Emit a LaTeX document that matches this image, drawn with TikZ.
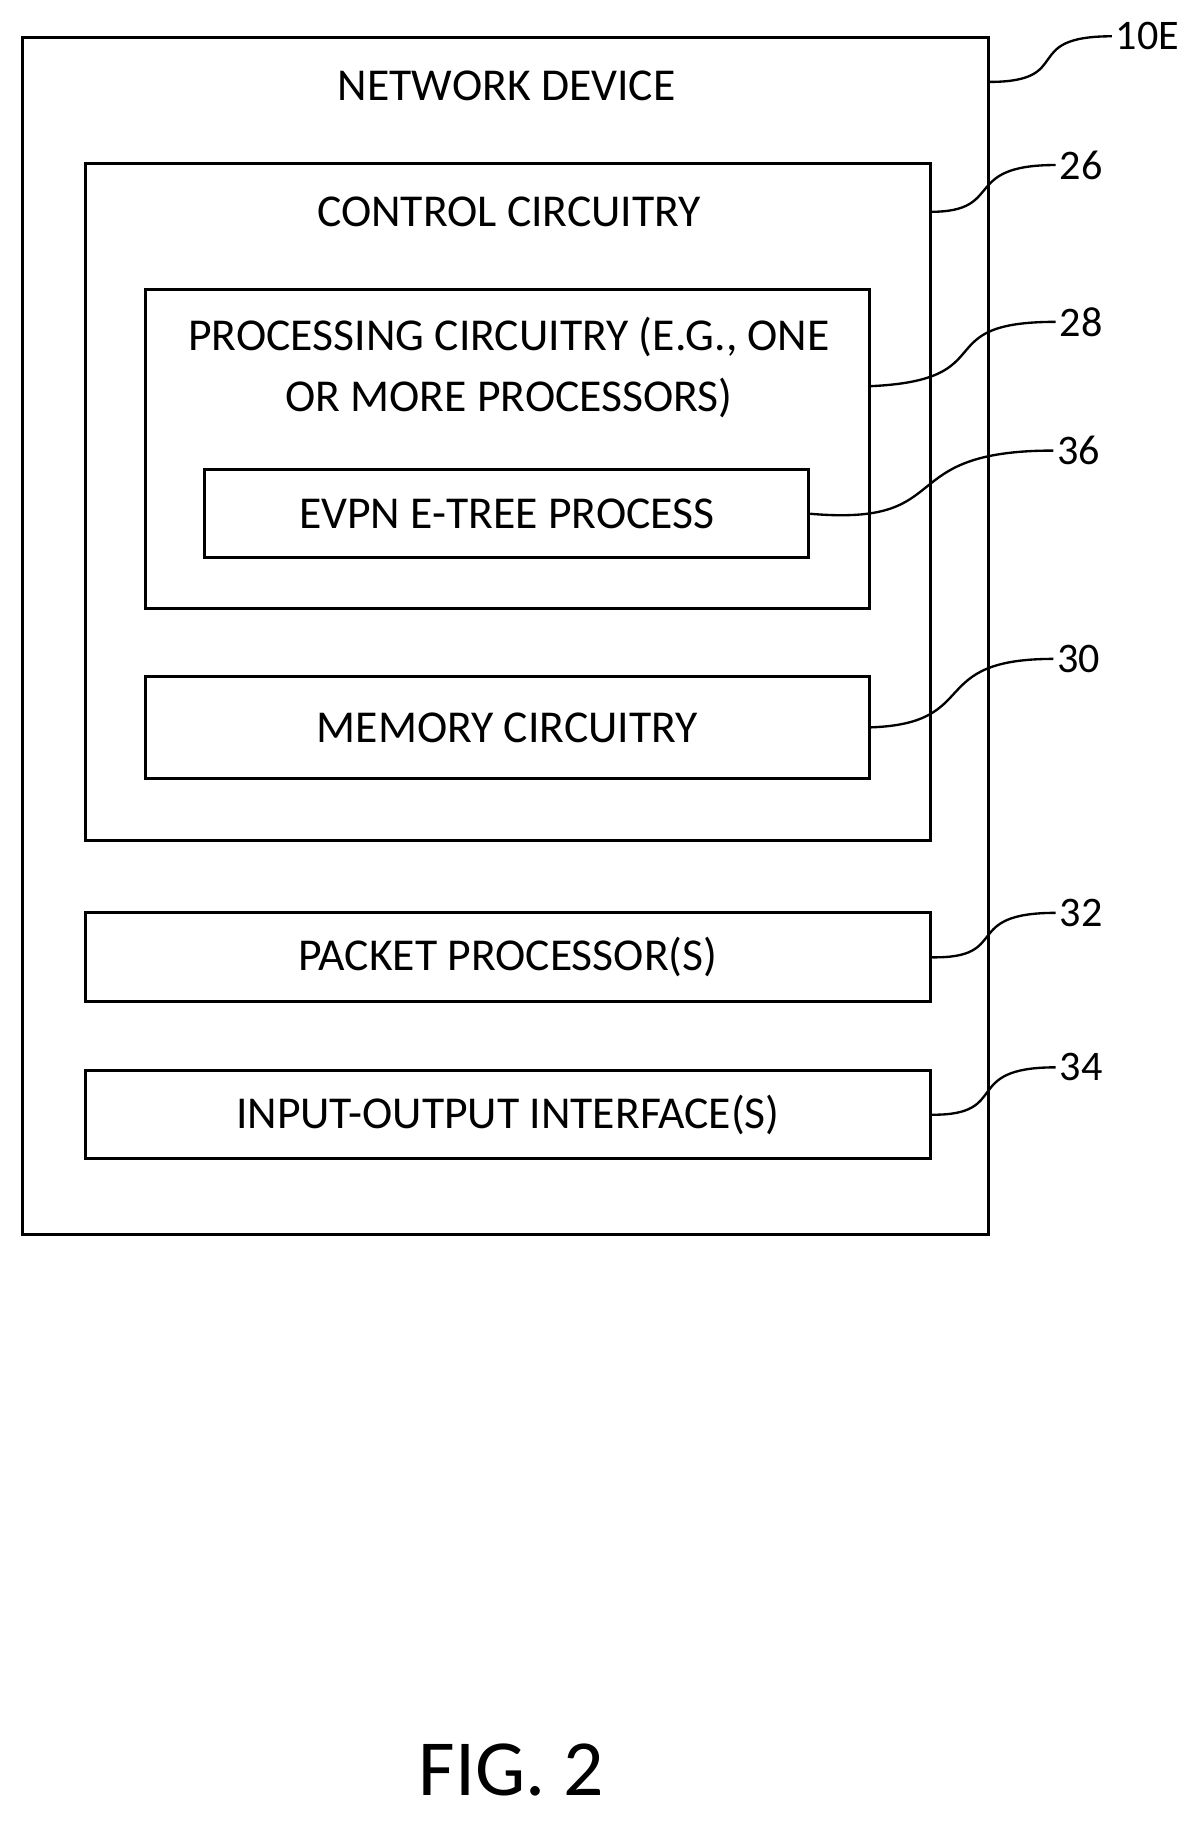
\documentclass[tikz,border=0pt]{standalone}
\usepackage{fontspec}
\setmainfont{Carlito}
\usepackage{tikz}

\tikzset{
    blk/.style={draw, line width=2.6pt, rectangle},
    lead/.style={line width=2pt},
    num/.style={font=\fontsize{36}{40}\selectfont, anchor=west}
}

\begin{document}
\begin{tikzpicture}[x=1pt, y=-1pt, every node/.style={font=\fontsize{39}{52}\selectfont}]
    \useasboundingbox (0,0) rectangle (1024,1556);

    % Boxes
    \draw[blk] (19,32) rectangle (845,1055);
    \node (dev) at (433,73) {NETWORK DEVICE};
    \draw[blk] (73,140) rectangle (795,718);
    \node (ctl) at (435,181) {CONTROL CIRCUITRY};
    \draw[blk] (124,247) rectangle (743,520);
    \node[align=center] (proc) at (435,314) {PROCESSING CIRCUITRY (E.G., ONE\\OR MORE PROCESSORS)};
    \node[blk, minimum width=516pt, minimum height=75pt] (evpn) at (433,439) {EVPN E-TREE PROCESS};
    \node[blk, minimum width=619pt, minimum height=87pt] (mem) at (433.5,621.5) {MEMORY CIRCUITRY};
    \node[blk, minimum width=722pt, minimum height=76pt] (pkt) at (434,818) {PACKET PROCESSOR(S)};
    \node[blk, minimum width=722pt, minimum height=75pt] (io) at (434,952.5) {INPUT-OUTPUT INTERFACE(S)};

    % Edge points and labels
    \coordinate (e10) at (845,70);
    \coordinate (e26) at (795,181);
    \coordinate (e28) at (743,330);
    \coordinate (e36) at (evpn.east);
    \coordinate (e30) at (mem.east);
    \coordinate (e32) at (pkt.east);
    \coordinate (e34) at (io.east);
    \node[num] (n10) at (950,31) {10E};
    \node[num] (n26) at (902,141) {26};
    \node[num] (n28) at (902,275) {28};
    \node[num] (n36) at (900,385) {36};
    \node[num] (n30) at (900,563) {30};
    \node[num] (n32) at (902,780) {32};
    \node[num] (n34) at (902,912) {34};

    % Leaders
    \draw[lead] (e10) .. controls (920,70) and (870,31) .. (n10.west);
    \draw[lead] (e26) .. controls (860,181) and (820,141) .. (n26.west);
    \draw[lead] (e28) .. controls (860,325) and (790,275) .. (n28.west);
    \draw[lead] (e36) .. controls (820,450) and (760,385) .. (n36.west);
    \draw[lead] (e30) .. controls (840,618) and (790,563) .. (n30.west);
    \draw[lead] (e32) .. controls (865,819) and (820,780) .. (n32.west);
    \draw[lead] (e34) .. controls (865,953) and (820,912) .. (n34.west);

    \node[font=\fontsize{68}{72}\selectfont] (fig) at (437,1512) {FIG. 2};
\end{tikzpicture}
\end{document}
